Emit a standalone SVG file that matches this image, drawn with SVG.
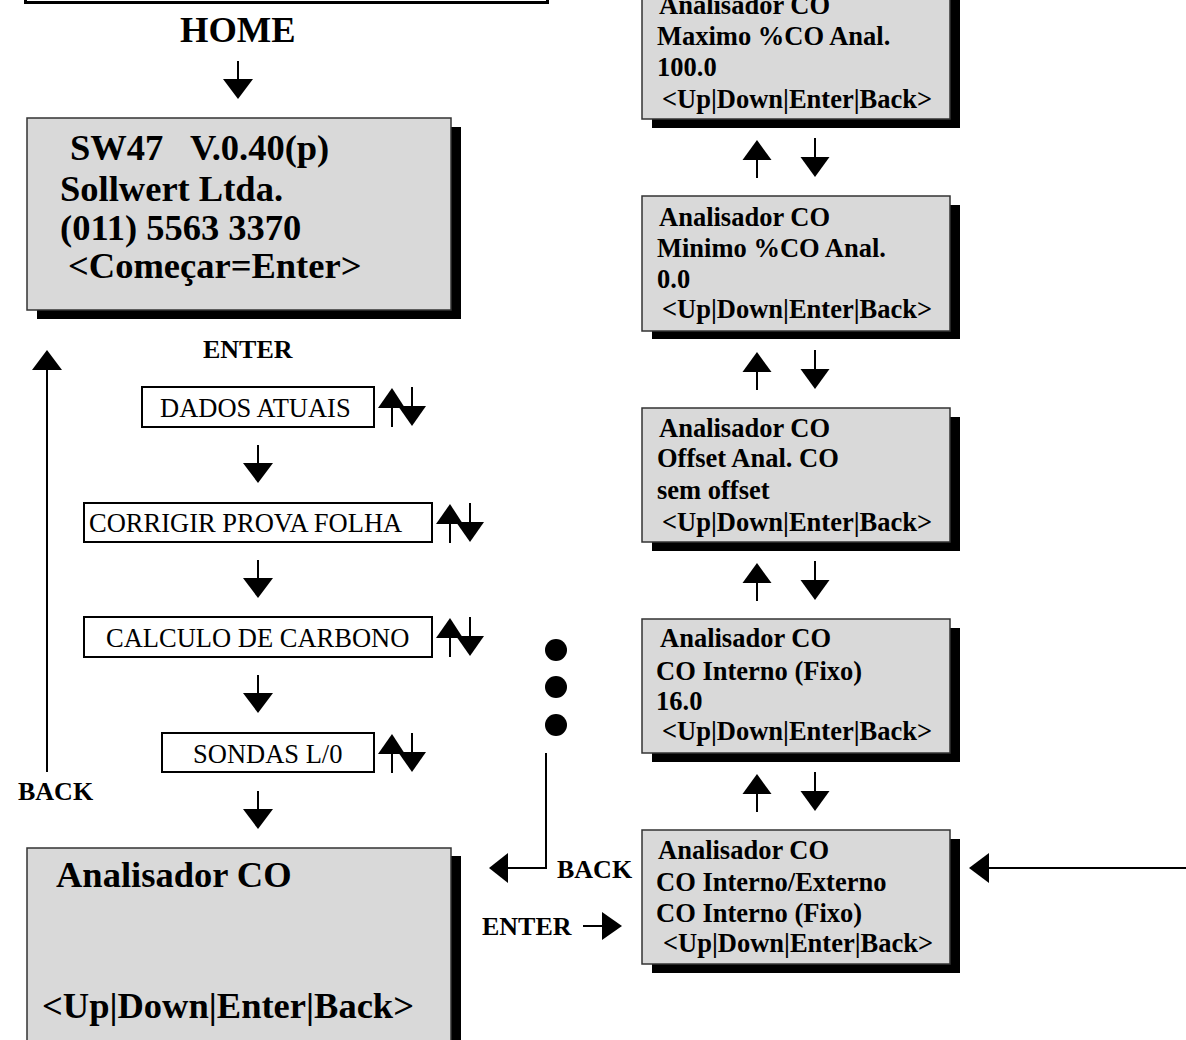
<svg xmlns="http://www.w3.org/2000/svg" xmlns:xlink="http://www.w3.org/1999/xlink" width="1186" height="1040" viewBox="0 0 1186 1040">
  <style>
    .lcd { fill: #d9d9d9; stroke: #333; stroke-width: 1.5; }
    .shadow { fill: #000; }
    .menu { fill: #fff; stroke: #000; stroke-width: 2; }
    .big { font-family: "Liberation Serif", "Times New Roman", serif; font-weight: bold; font-size: 36.5px; fill: #000; }
    .mid { font-family: "Liberation Serif", "Times New Roman", serif; font-weight: bold; font-size: 26.5px; fill: #000; }
    .item { font-family: "Liberation Serif", "Times New Roman", serif; font-size: 26.5px; fill: #000; }
    .lbl { font-family: "Liberation Serif", "Times New Roman", serif; font-weight: bold; font-size: 26px; fill: #000; }
    .ln { stroke: #000; stroke-width: 2; fill: none; }
    .hd { fill: #000; stroke: none; }
  </style>
  <defs>
    <!-- single downward arrow, stem top at origin -->
    <g id="down">
      <line class="ln" x1="0" y1="0" x2="0" y2="19"/>
      <polygon class="hd" points="-15,18 15,18 0,38"/>
    </g>
    <!-- up/down pair beside a menu entry; origin = up stem x, entry top -->
    <g id="pairSmall">
      <polygon class="hd" points="-14,21 13,21 0,1"/>
      <line class="ln" x1="0" y1="20" x2="0" y2="40"/>
      <line class="ln" x1="20" y1="0" x2="20" y2="20"/>
      <polygon class="hd" points="6,19 34,19 20,39"/>
    </g>
    <!-- up/down pair between screens; origin = up stem x, upper screen bottom -->
    <g id="pairBig">
      <polygon class="hd" points="-14.5,41 14.5,41 0,21"/>
      <line class="ln" x1="0" y1="40" x2="0" y2="59"/>
      <line class="ln" x1="58" y1="19" x2="58" y2="39"/>
      <polygon class="hd" points="43.5,38 72.5,38 58,58"/>
    </g>
  </defs>

  <rect width="1186" height="1040" fill="#fff"/>

  <!-- previous screen (cut at top) -->
  <g id="prev-screen">
    <rect x="25.5" y="-30" width="522" height="32.5" fill="#fff" stroke="#000" stroke-width="3"/>
  </g>

  <text class="big" x="180" y="42">HOME</text>

  <!-- start screen -->
  <g id="home-screen">
    <rect class="shadow" x="37" y="127" width="424" height="192"/>
    <rect class="lcd" x="27" y="118" width="424" height="192"/>
    <text class="big" y="160"><tspan x="70">SW47</tspan><tspan x="190">V.0.40(p)</tspan></text>
    <text class="big" x="60" y="201">Sollwert Ltda.</text>
    <text class="big" x="60" y="240">(011) 5563 3370</text>
    <text class="big" x="68" y="278">&lt;Começar=Enter&gt;</text>
  </g>

  <text class="lbl" x="203" y="358">ENTER</text>
  <text class="lbl" x="18" y="800">BACK</text>

  <!-- menu entries -->
  <g id="menu-dados">
    <rect class="menu" x="142" y="387" width="232" height="40"/>
    <text class="item" x="160" y="417">DADOS ATUAIS</text>
  </g>
  <g id="menu-corrigir">
    <rect class="menu" x="84" y="503" width="348" height="39"/>
    <text class="item" x="89" y="532">CORRIGIR PROVA FOLHA</text>
  </g>
  <g id="menu-calculo">
    <rect class="menu" x="84" y="617" width="348" height="40"/>
    <text class="item" x="106" y="647">CALCULO DE CARBONO</text>
  </g>
  <g id="menu-sondas">
    <rect class="menu" x="162" y="733" width="212" height="39"/>
    <text class="item" x="193" y="763">SONDAS L/0</text>
  </g>

  <!-- analyser entry screen -->
  <g id="analisador-screen">
    <rect class="shadow" x="37" y="856" width="424" height="200"/>
    <rect class="lcd" x="27" y="848" width="424" height="200"/>
    <text class="big" x="56" y="887">Analisador CO</text>
    <text class="big" x="42" y="1018">&lt;Up|Down|Enter|Back&gt;</text>
  </g>

  <!-- analyser parameter screens -->
  <g id="screen-maximo">
    <rect class="shadow" x="652" y="-6" width="308" height="134"/>
    <rect class="lcd" x="642" y="-15" width="308" height="134"/>
    <text class="mid" x="659" y="14">Analisador CO</text>
    <text class="mid" x="657" y="45">Maximo %CO Anal.</text>
    <text class="mid" x="657" y="76">100.0</text>
    <text class="mid" x="662" y="108">&lt;Up|Down|Enter|Back&gt;</text>
  </g>
  <g id="screen-minimo">
    <rect class="shadow" x="652" y="205" width="308" height="134"/>
    <rect class="lcd" x="642" y="196" width="308" height="135"/>
    <text class="mid" x="659" y="226">Analisador CO</text>
    <text class="mid" x="657" y="257">Minimo %CO Anal.</text>
    <text class="mid" x="657" y="288">0.0</text>
    <text class="mid" x="662" y="318">&lt;Up|Down|Enter|Back&gt;</text>
  </g>
  <g id="screen-offset">
    <rect class="shadow" x="652" y="417" width="308" height="134"/>
    <rect class="lcd" x="642" y="408" width="308" height="134"/>
    <text class="mid" x="659" y="437">Analisador CO</text>
    <text class="mid" x="657" y="467">Offset Anal. CO</text>
    <text class="mid" x="657" y="499">sem offset</text>
    <text class="mid" x="662" y="531">&lt;Up|Down|Enter|Back&gt;</text>
  </g>
  <g id="screen-fixo">
    <rect class="shadow" x="652" y="628" width="308" height="134"/>
    <rect class="lcd" x="642" y="619" width="308" height="134"/>
    <text class="mid" x="660" y="647">Analisador CO</text>
    <text class="mid" x="656" y="680">CO Interno (Fixo)</text>
    <text class="mid" x="656" y="710">16.0</text>
    <text class="mid" x="662" y="740">&lt;Up|Down|Enter|Back&gt;</text>
  </g>
  <g id="screen-interno-externo">
    <rect class="shadow" x="652" y="839" width="308" height="134"/>
    <rect class="lcd" x="642" y="830" width="308" height="134"/>
    <text class="mid" x="658" y="859">Analisador CO</text>
    <text class="mid" x="656" y="891">CO Interno/Externo</text>
    <text class="mid" x="656" y="922">CO Interno (Fixo)</text>
    <text class="mid" x="663" y="952">&lt;Up|Down|Enter|Back&gt;</text>
  </g>

  <!-- continuation dots -->
  <g id="dots">
    <circle cx="556" cy="650" r="11" fill="#000"/>
    <circle cx="556" cy="687" r="11" fill="#000"/>
    <circle cx="556" cy="725" r="11" fill="#000"/>
  </g>

  <text class="lbl" x="557" y="878">BACK</text>
  <text class="lbl" x="482" y="935">ENTER</text>

  <g id="connectors">
    <use xlink:href="#down" x="238" y="61"/>
    <use xlink:href="#down" x="258" y="445"/>
    <use xlink:href="#down" x="258" y="560"/>
    <use xlink:href="#down" x="258" y="675"/>
    <use xlink:href="#down" x="258" y="791"/>

    <use xlink:href="#pairSmall" x="392" y="387"/>
    <use xlink:href="#pairSmall" x="450" y="503"/>
    <use xlink:href="#pairSmall" x="450" y="617"/>
    <use xlink:href="#pairSmall" x="392" y="733"/>

    <use xlink:href="#pairBig" x="757" y="119"/>
    <use xlink:href="#pairBig" x="757" y="331"/>
    <use xlink:href="#pairBig" x="757" y="542"/>
    <use xlink:href="#pairBig" x="757" y="753"/>

    <!-- back to home -->
    <line class="ln" x1="47" y1="772" x2="47" y2="368"/>
    <polygon class="hd" points="32,370 62,370 47,350"/>

    <!-- back from parameter list -->
    <path class="ln" d="M546,753 V868 H506"/>
    <polygon class="hd" points="489,868 508,853 508,883"/>

    <!-- enter into parameter list -->
    <line class="ln" x1="583" y1="926" x2="604" y2="926"/>
    <polygon class="hd" points="602,912 622,926 602,940"/>

    <!-- incoming from the right -->
    <line class="ln" x1="987" y1="868" x2="1186" y2="868"/>
    <polygon class="hd" points="969,868 989,853 989,883"/>
  </g>
</svg>
